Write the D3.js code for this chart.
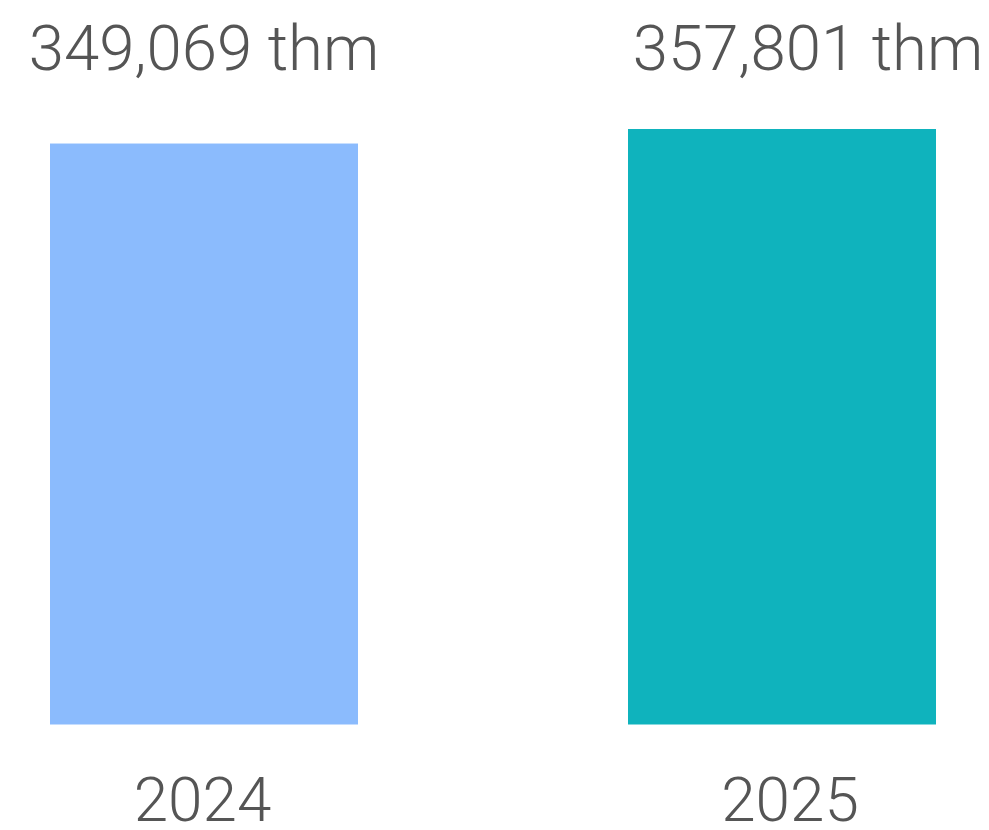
<!DOCTYPE html>
<html>
<head>
<meta charset="utf-8">
<script src="https://cdn.jsdelivr.net/npm/d3@7"></script>
<style>
  html, body { margin: 0; padding: 0; background: #ffffff; }
  svg { display: block; }
  text { font-family: Roboto, "Noto Sans", sans-serif; font-weight: 300; fill: #555555; }
</style>
</head>
<body>
<svg id="chart" width="989" height="830"></svg>
<script>
const categories = ["2024", "2025"];
const values = [349069, 357801];
const unit = "thm";
const colors = ["#8bbbfd", "#0fb3bd"];

const W = 989, H = 830;
const svg = d3.select("#chart");

// layout nudges for labels (relative to bar centre)
const valueLabelDx = [0, 26];
const catLabelDx = [-1.5, 8];

const x = d3.scaleBand().domain(categories).range([50, 936]).paddingInner(270 / 578).paddingOuter(0);
const y = d3.scaleLinear().domain([0, d3.max(values)]).range([724.5, 129]);

const fmt = d3.format(",");

svg.selectAll("rect.bar")
  .data(categories)
  .join("rect")
  .attr("class", "bar")
  .attr("x", d => x(d))
  .attr("width", x.bandwidth())
  .attr("y", (d, i) => y(values[i]))
  .attr("height", (d, i) => y(0) - y(values[i]))
  .attr("fill", (d, i) => colors[i]);

svg.selectAll("text.val")
  .data(categories)
  .join("text")
  .attr("class", "val")
  .attr("text-anchor", "middle")
  .attr("x", (d, i) => x(d) + x.bandwidth() / 2 + valueLabelDx[i])
  .attr("y", 70)
  .style("font-size", "63.5px")
  .text((d, i) => fmt(values[i]) + " " + unit);

svg.selectAll("text.cat")
  .data(categories)
  .join("text")
  .attr("class", "cat")
  .attr("text-anchor", "middle")
  .attr("x", (d, i) => x(d) + x.bandwidth() / 2 + catLabelDx[i])
  .attr("y", 821)
  .style("font-size", "62px")
  .text(d => d);
</script>
</body>
</html>
